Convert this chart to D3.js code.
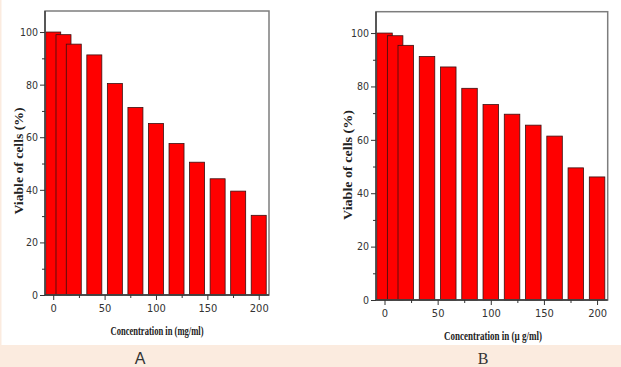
<!DOCTYPE html>
<html>
<head>
<meta charset="utf-8">
<script src="https://cdn.jsdelivr.net/npm/d3@7"></script>
<style>
  html, body { margin: 0; padding: 0; background: #fbebdf; }
  svg { display: block; }
</style>
</head>
<body>
<svg id="chart" width="621" height="367"></svg>
<script>
// --- data ---
const concA = [0, 10, 20, 40, 60, 80, 100, 120, 140, 160, 180, 200];
const viableA = [100, 99, 95.4, 91.3, 80.4, 71.3, 65.2, 57.6, 50.5, 44.2, 39.5, 30.3];
const concB = [0, 10, 20, 40, 60, 80, 100, 120, 140, 160, 180, 200];
const viableB = [100, 99, 95.4, 91.2, 87.3, 79.3, 73.2, 69.6, 65.5, 61.4, 49.5, 46.1];
const xTicks = [0, 50, 100, 150, 200];
const yTicks = [0, 20, 40, 60, 80, 100];

const svg = d3.select("#chart");

// white sheet + peach strip below
svg.append("rect").attr("x", 1.5).attr("y", 0).attr("width", 621).attr("height", 345).attr("fill", "#fff");

const panels = [
  { id: "A", conc: concA, vals: viableA, left: 45, right: 269, top: 11, bottom: 295,
    xtitle: "Concentration in (mg/ml)", xtX: 157, xtY: 335, xtLen: 93,
    ytX: 22.5, ytY: 161, ytLen: 107, tag: "A", tagX: 140, tagFont: "Liberation Sans, Arial, sans-serif" },
  { id: "B", conc: concB, vals: viableB, left: 376, right: 607.7, top: 11.7, bottom: 300,
    xtitle: "Concentration in (\u00b5 g/ml)", xtX: 493, xtY: 339.5, xtLen: 98,
    ytX: 352, ytY: 165, ytLen: 110, tag: "B", tagX: 483, tagFont: "Liberation Serif, Times New Roman, serif" }
];

const numFont = "'Liberation Sans Narrow', 'Arial Narrow', 'DejaVu Sans Condensed', sans-serif";
const titleFont = "'Liberation Serif', 'Times New Roman', serif";

panels.forEach(p => {
  const x = d3.scaleLinear().domain([-8, 210]).range([p.left, p.right]);
  const y = d3.scaleLinear().domain([0, 108]).range([p.bottom, p.top]);
  const g = svg.append("g").attr("id", "panel-" + p.id);

  // bars (later ones drawn on top)
  const bw = 14.6;
  g.selectAll(".bar")
    .data(p.conc.map((c, i) => ({ c, v: p.vals[i] })))
    .enter().append("rect")
    .attr("class", "bar")
    .attr("x", d => x(d.c - bw / 2))
    .attr("y", d => y(d.v))
    .attr("width", d => x(d.c + bw / 2) - x(d.c - bw / 2))
    .attr("height", d => y(0) - y(d.v))
    .attr("fill", "#ff0000")
    .attr("stroke", "#3a1010")
    .attr("stroke-width", 0.8);

  // frame
  g.append("rect")
    .attr("x", p.left).attr("y", p.top)
    .attr("width", p.right - p.left).attr("height", p.bottom - p.top)
    .attr("fill", "none").attr("stroke", "#7d7d7d").attr("stroke-width", 1.5);

  // axes
  const xAxis = d3.axisBottom(x).tickValues(xTicks).tickSize(5).tickPadding(4);
  const xMinor = d3.axisBottom(x).tickValues([25, 75, 125, 175]).tickSize(3).tickFormat("");
  const yAxis = d3.axisLeft(y).tickValues(yTicks).tickSize(5).tickPadding(2);
  const yMinor = d3.axisLeft(y).tickValues([10, 30, 50, 70, 90]).tickSize(3).tickFormat("");

  [[xAxis, "x"], [xMinor, "x"], [yAxis, "y"], [yMinor, "y"]].forEach(([ax, k]) => {
    const a = g.append("g")
      .attr("transform", k === "x" ? `translate(0,${p.bottom})` : `translate(${p.left},0)`)
      .call(ax);
    a.select(".domain").remove();
    a.selectAll("line").attr("stroke", "#333").attr("stroke-width", 1);
    a.selectAll("text")
      .attr("fill", "#333")
      .style("font-family", numFont)
      .style("font-size", k === "x" ? "11px" : "10.5px");
  });

  // axis lines
  g.append("line").attr("x1", p.left).attr("x2", p.right).attr("y1", p.bottom).attr("y2", p.bottom)
    .attr("stroke", "#333").attr("stroke-width", 1.3);
  g.append("line").attr("x1", p.left).attr("x2", p.left).attr("y1", p.top).attr("y2", p.bottom)
    .attr("stroke", "#333").attr("stroke-width", 1.3);

  // titles
  g.append("text")
    .attr("x", p.xtX - p.xtLen / 2).attr("y", p.xtY)
    .attr("textLength", p.xtLen).attr("lengthAdjust", "spacingAndGlyphs")
    .style("font-family", titleFont).style("font-weight", "bold").style("font-size", "12.5px")
    .attr("fill", "#222")
    .text(p.xtitle);

  g.append("text")
    .attr("transform", `translate(${p.ytX},${p.ytY + p.ytLen / 2}) rotate(-90)`)
    .attr("textLength", p.ytLen).attr("lengthAdjust", "spacingAndGlyphs")
    .style("font-family", titleFont).style("font-weight", "bold").style("font-size", "12.5px")
    .attr("fill", "#222")
    .text("Viable of cells (%)");

  // panel tag
  svg.append("text")
    .attr("x", p.tagX).attr("y", 364)
    .attr("text-anchor", "middle")
    .style("font-family", p.tagFont).style("font-size", "16px")
    .attr("fill", "#333")
    .text(p.tag);
});
</script>
</body>
</html>
